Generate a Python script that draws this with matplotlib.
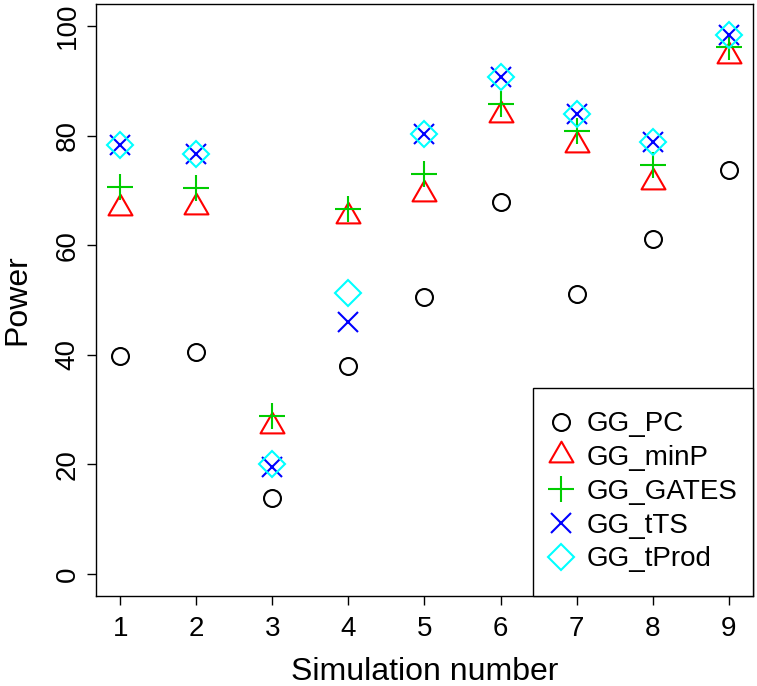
import matplotlib
matplotlib.use("Agg")
import matplotlib.pyplot as plt
from matplotlib.path import Path
import numpy as np

plt.rcParams['font.family'] = ['Liberation Sans', 'DejaVu Sans']

sims = [1, 2, 3, 4, 5, 6, 7, 8, 9]
gg_pc = [39.8, 40.6, 13.9, 38.0, 50.6, 67.8, 51.1, 61.1, 73.8]
gg_minp = [66.8, 67.0, 27.0, 65.3, 69.3, 83.7, 78.3, 71.5, 94.6]
gg_gates = [70.7, 70.5, 28.8, 66.6, 73.0, 85.8, 80.8, 74.7, 96.1]
gg_tts = [78.3, 76.7, 19.5, 45.9, 80.3, 90.7, 83.9, 78.9, 98.4]
gg_tprod = [78.3, 76.7, 20.1, 51.3, 80.3, 90.7, 83.9, 78.9, 98.4]
labels = ["GG_PC", "GG_minP", "GG_GATES", "GG_tTS", "GG_tProd"]
colors = ["#000000", "#FF0000", "#00CD00", "#0000FF", "#00FFFF"]

# R-style triangle (centroid at the data point)
tri = Path([(0, 1.5551), (1.3468, -0.7776), (-1.3468, -0.7776), (0, 1.5551)],
           [Path.MOVETO, Path.LINETO, Path.LINETO, Path.CLOSEPOLY])

W, H = 757, 686
fig = plt.figure(figsize=(W / 100, H / 100), dpi=100)
ax = fig.add_axes([96 / W, 1 - 596 / H, (753 - 96) / W, (596 - 4) / H])

series = [gg_pc, gg_minp, gg_gates, gg_tts, gg_tprod]
markers = ['o', tri, '+', 'x', 'D']
sizes = [12.2, 19.9, 18.7, 13.7, 13.2]
mew = 1.5
for vals, m, ms, c, lab in zip(series, markers, sizes, colors, labels):
    ax.plot(sims, vals, linestyle='none', marker=m, markersize=ms,
            markerfacecolor='none', markeredgecolor=c, markeredgewidth=mew,
            label=lab, clip_on=False)

ax.set_xlim(0.68, 9.32)
ax.set_ylim(-4, 104)
ax.set_xticks(sims)
ax.set_yticks([0, 20, 40, 60, 80, 100])
ax.tick_params(axis='both', direction='out', length=6.5, width=1, labelsize=20, color='black')
ax.tick_params(axis='x', pad=8.0)
ax.tick_params(axis='y', pad=4.5)
for t in ax.get_yticklabels():
    t.set_rotation(90)
    t.set_va('center')
for s in ax.spines.values():
    s.set_linewidth(1)
    s.set_color('black')

ax.set_xlabel("Simulation number", fontsize=23, labelpad=10.5)
ax.set_ylabel("Power", fontsize=23, labelpad=16)

x0 = (533 - 96) / (753 - 96)
leg = ax.legend(loc='lower left', bbox_to_anchor=(x0, 0, 1 - x0, 0.2), mode='expand',
                fontsize=20, frameon=True, fancybox=False,
                borderaxespad=0, numpoints=1, handlelength=0.3, handletextpad=0.78,
                labelspacing=0.28, borderpad=0.85)
leg.get_frame().set_edgecolor('black')
leg.get_frame().set_linewidth(1)
leg.get_frame().set_alpha(1)

fig.savefig("out.png", dpi=100)
